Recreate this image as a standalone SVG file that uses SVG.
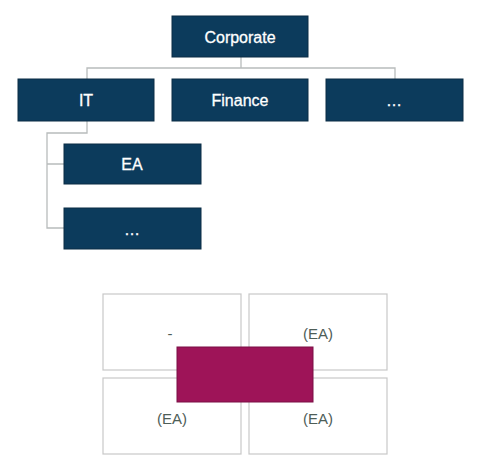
<svg xmlns="http://www.w3.org/2000/svg" width="480" height="470" viewBox="0 0 480 470">
<style>
.n{fill:#0c3b5c;stroke:#0a2c44;stroke-width:1}
.t{font-family:"Liberation Sans",Arial,sans-serif;font-size:16px;fill:#ffffff;stroke:#ffffff;stroke-width:0.3;text-anchor:middle;dominant-baseline:central}
.c{fill:none;stroke:#b8bcbc;stroke-width:1.3}
.q{fill:#ffffff;stroke:#c8c8c8;stroke-width:1.2}
.l{font-family:"Liberation Sans",Arial,sans-serif;font-size:15px;fill:#4e5e58;text-anchor:middle;dominant-baseline:central}
</style>
<rect width="480" height="470" fill="#ffffff"/>
<g id="connectors">
<path class="c" d="M241 57V68M87 79V68H395V79M87 121V133H47V228H64M47 164H64"/>
</g>
<g id="corporate"><rect class="n" x="172" y="16" width="136" height="41"/><text class="t" x="240" y="37">Corporate</text></g>
<g id="it"><rect class="n" x="18" y="79" width="136" height="42"/><text class="t" x="86" y="100">IT</text></g>
<g id="finance"><rect class="n" x="172" y="79" width="136" height="42"/><text class="t" x="240" y="100">Finance</text></g>
<g id="other"><rect class="n" x="326" y="79" width="137" height="42"/><text class="t" x="394" y="100">…</text></g>
<g id="ea"><rect class="n" x="64" y="144" width="137" height="40"/><text class="t" x="132" y="164">EA</text></g>
<g id="it-other"><rect class="n" x="64" y="208" width="137" height="41"/><text class="t" x="132" y="229">…</text></g>
<g id="matrix">
<rect class="q" x="103" y="294" width="138" height="76"/>
<rect class="q" x="249" y="294" width="138" height="76"/>
<rect class="q" x="103" y="378" width="138" height="76"/>
<rect class="q" x="249" y="378" width="138" height="76"/>
<text class="l" x="170" y="333">-</text>
<text class="l" x="318" y="333">(EA)</text>
<text class="l" x="172" y="418">(EA)</text>
<text class="l" x="318" y="418">(EA)</text>
<rect x="177" y="347" width="136" height="55" fill="#9e1458" stroke="#7a0e44" stroke-width="1"/>
</g>
</svg>
